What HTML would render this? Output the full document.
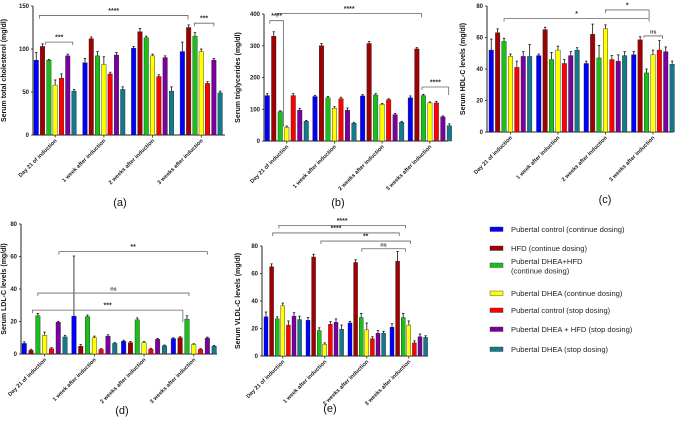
<!DOCTYPE html>
<html><head><meta charset="utf-8"><style>
body{margin:0;background:#fff;}
svg{display:block;font-family:"Liberation Sans",Arial,sans-serif;}
</style></head><body>
<svg id="fig" width="676" height="423" viewBox="0 0 676 423" xmlns="http://www.w3.org/2000/svg"></svg>
<script>
const categories = ["Day 21 of induction","1 week after induction","2 weeks after induction","3 weeks after induction"];
const seriesNames = ["Pubertal control (continue dosing)","HFD (continue dosing)","Pubertal DHEA+HFD (continue dosing)","Pubertal DHEA (continue dosing)","Pubertal control (stop dosing)","Pubertal DHEA + HFD (stop dosing)","Pubertal DHEA (stop dosing)"];
const colors = ["#0000ff","#a00000","#19c019","#ffff00","#ff0000","#7a00a0","#137a8c"];

const tcValues = [[87,103,87,58,66,92,51],[84,112,92,82,71,93,53],[101,120,113,92,68,90,51],[97,125,115,97,60,87,49]];
const tcErr = [[9,3,1,6,5,2,2],[5,2,5,9,2,3,3],[2,4,2,2,2,2,5],[11,3,4,3,2,2,2]];
const tgValues = [[143,330,92,43,143,97,62],[140,300,136,103,133,97,56],[142,307,145,115,130,83,59],[136,290,143,120,120,76,48]];
const tgErr = [[6,14,3,4,6,6,3],[4,7,4,5,5,7,3],[4,6,4,3,3,4,3],[6,4,4,3,5,3,6]];
const hdlValues = [[52,63,57.5,48,41,48,48],[48.5,65,46,52,43.5,48.5,52],[43.5,62,47,65.5,46,45,48.5],[49,58.5,37.5,49,52,51,43]];
const hdlErr = [[7,2.5,2,1.5,4,3,7.5],[1,1.5,4.5,2.5,2.5,2.5,1.5],[1.5,6.5,8,2.5,2.5,4,2.5],[2,2,2.5,3,6,3,2]];
const ldlValues = [[6.5,2.2,23.5,11.5,3.3,19.5,10.5],[23.3,4.8,23,10,2.8,11,6.5],[7.8,7,21,7,3,9,5],[9.5,10,21.5,5.8,2.8,9.8,4.8]];
const ldlErr = [[1,0.7,1.5,2,0.6,0.6,1],[37,1,1,1,0.5,0.8,0.5],[0.7,0.7,1.2,0.6,0.5,0.6,0.5],[0.5,0.6,2,0.5,0.5,0.6,0.5]];
const vldlValues = [[28.5,65,27,36.5,22.5,29,26.5],[26,72,18.5,8.5,23,24.5,19.5],[24,68,28,19,12.5,16.5,16.5],[21,69,28,22.5,9.5,14,13.5]];
const vldlErr = [[3.5,2,1.5,2,3,2.5,2.5],[2,2,2,1,2,2.5,3],[1.2,2,3,5,1.5,2,1.5],[2.5,7,3,3,1.5,2,1.2]];

const svg = document.getElementById('fig');
const NS = "http://www.w3.org/2000/svg";
function mk(tag, attrs, parent){const e=document.createElementNS(NS,tag);for(const k in attrs)e.setAttribute(k,attrs[k]);(parent||svg).appendChild(e);return e;}

function panel(cfg){
  const g = mk('g',{});
  
  
  const yS = v => cfg.yZero - (v/cfg.ymax)*(cfg.yZero-cfg.yTop);
  const xS = (gi,b) => cfg.first + gi*cfg.gStep + b*cfg.bStep;
  const ya = mk('line',{x1:cfg.x0,y1:cfg.yTop,x2:cfg.x0,y2:cfg.yZero,stroke:'#222','stroke-width':1},g);
  
  
  const xa = mk('line',{x1:cfg.x0,y1:cfg.yZero,x2:cfg.x1,y2:cfg.yZero,stroke:'#222','stroke-width':1},g);
  
  
  for(let v=0; v<=cfg.ymax; v+=cfg.step){
    mk('line',{x1:cfg.x0-2,y1:yS(v),x2:cfg.x0,y2:yS(v),stroke:'#222','stroke-width':0.8},g);
    const t = mk('text',{x:cfg.x0-4,y:yS(v)+2,'font-size':6,'font-weight':'bold','text-anchor':'end',fill:'#222'},g);
    t.textContent = v;
    
    
  }
  const yt = mk('text',{x:0,y:0,'font-size':7,'font-weight':'bold','text-anchor':'middle',fill:'#111',transform:`translate(${cfg.titleX},${(cfg.yTop+cfg.yZero)/2}) rotate(-90)`},g);
  yt.textContent = cfg.title;
  
  
  cfg.values.forEach((grp,gi)=>{
    grp.forEach((v,b)=>{
      const x = xS(gi,b), top = yS(v+cfg.err[gi][b]);
      mk('line',{x1:x+cfg.bw/2,y1:yS(v),x2:x+cfg.bw/2,y2:top,stroke:'#111','stroke-width':0.8},g);
      mk('line',{x1:x+cfg.bw/2-1.2,y1:top,x2:x+cfg.bw/2+1.2,y2:top,stroke:'#111','stroke-width':0.8},g);
      const r = mk('rect',{x:x,y:yS(v),width:cfg.bw,height:cfg.yZero-yS(v),fill:colors[b],stroke:'#222','stroke-width':0.4},g);
      
      
    });
    const cx = xS(gi,3)+cfg.bw/2;
    mk('line',{x1:cx,y1:cfg.yZero,x2:cx,y2:cfg.yZero+2.5,stroke:'#222','stroke-width':0.8},g);
    const lt = mk('text',{x:0,y:0,'font-size':5.6,'font-weight':'bold','text-anchor':'end',fill:'#222',transform:`translate(${cx+2},${cfg.yZero+6}) rotate(-45)`},g);
    lt.textContent = categories[gi];
    
    
  });
  cfg.brackets.forEach(br=>{
    const [g1,b1,g2,b2,v,lab,dl,dr] = br;
    const xa1 = xS(g1,b1)+cfg.bw/2, xa2 = xS(g2,b2)+cfg.bw/2, y = yS(v);
    const p = mk('path',{d:`M${xa1},${y+dl}V${y}H${xa2}V${y+dr}`,fill:'none',stroke:'#666','stroke-width':0.8},g);
    
    
    const t = mk('text',{x:(xa1+xa2)/2,y:y-2.5,'font-size':lab==='ns'?5.5:7,'font-weight':'bold','text-anchor':'middle',fill:'#333'},g);
    t.textContent = lab;
    
    
  });
  const c = mk('text',{x:cfg.capX,y:cfg.capY,'font-size':11,'text-anchor':'middle',fill:'#111'},g);
  c.textContent = cfg.cap;
  
  
}

panel({name:'panel-a-total-cholesterol',key:'a',values:tcValues,err:tcErr,x0:33,x1:225,yTop:6,yZero:135,ymax:150,step:50,first:34,gStep:48.7,bStep:6.3,bw:4.5,title:'Serum total cholesterol (mg/dl)',titleX:6,cap:'(a)',capX:120,capY:206,
 brackets:[[0,0.5,3,0.9,139,'****',3,4],[0,1.5,0,5.8,108,'***',3,3],[3,1.9,3,5,130,'***',3,3]]});
panel({name:'panel-b-triglycerides',key:'b',values:tgValues,err:tgErr,x0:264,x1:448,yTop:14,yZero:141,ymax:400,step:100,first:265,gStep:47.7,bStep:6.5,bw:4.5,title:'Serum triglycerides (mg/dl)',titleX:240,cap:'(b)',capX:338,capY:206,
 brackets:[[0,1.5,3,1.7,402,'****',4,4],[0,0.4,0,2.5,379,'****',3,106],[3,1.8,3,5.9,170,'****',3,8]]});
panel({name:'panel-c-hdl',key:'c',values:hdlValues,err:hdlErr,x0:487,x1:673,yTop:6,yZero:132,ymax:80,step:20,first:489,gStep:47.5,bStep:6.4,bw:4.5,title:'Serum HDL-C levels (mg/dl)',titleX:465,cap:'(c)',capX:605,capY:203,
 brackets:[[0,2,3,2.4,72,'*',3,3],[2,3,3,2.4,77.5,'*',3,8],[3,1.6,3,4.5,61,'ns',2,3]]});
panel({name:'panel-d-ldl',key:'d',values:ldlValues,err:ldlErr,x0:21,x1:217,yTop:224,yZero:354,ymax:80,step:20,first:22,gStep:49.7,bStep:6.8,bw:4.5,title:'Serum LDL-C levels (mg/dl)',titleX:6,cap:'(d)',capX:122,capY:414,
 brackets:[[0,5.1,3,5,63,'**',3,3],[0,2,3,2.3,37.5,'ns',3,3],[0,1.2,3,1.4,27,'***',3,12]]});
panel({name:'panel-e-vldl',key:'e',values:vldlValues,err:vldlErr,x0:262,x1:428,yTop:246,yZero:356,ymax:80,step:20,first:264,gStep:42,bStep:5.6,bw:4,title:'Serum VLDL-C levels (mg/dl)',titleX:240,cap:'(e)',capX:330,capY:412,
 brackets:[[0,2.3,3,2.4,95,'****',3,3],[0,1.2,3,1.3,89.5,'****',3,3],[1,2.3,3,3.3,83.6,'**',3,3],[2,2.1,3,2.4,78,'ns',3,3]]});

const legendRows = [229,248,265,293,310,329,349];
const lg = mk('g',{});


seriesNames.forEach((n,i)=>{
  const y = legendRows[i];
  const sw = mk('rect',{x:490,y:y-2,width:13,height:4.5,fill:colors[i],stroke:'#333','stroke-width':0.4},lg);
  
  
  const t = mk('text',{x:511,y:y+2.8,'font-size':7.6,fill:'#222'},lg);
  
  
  if(i===2){
    t.setAttribute('y', y-1);
    const a = mk('tspan',{x:511},t); a.textContent='Pubertal DHEA+HFD';
    const b2 = mk('tspan',{x:511,dy:9.5},t); b2.textContent='(continue dosing)';
  } else t.textContent = n;
});
</script>
</body></html>
